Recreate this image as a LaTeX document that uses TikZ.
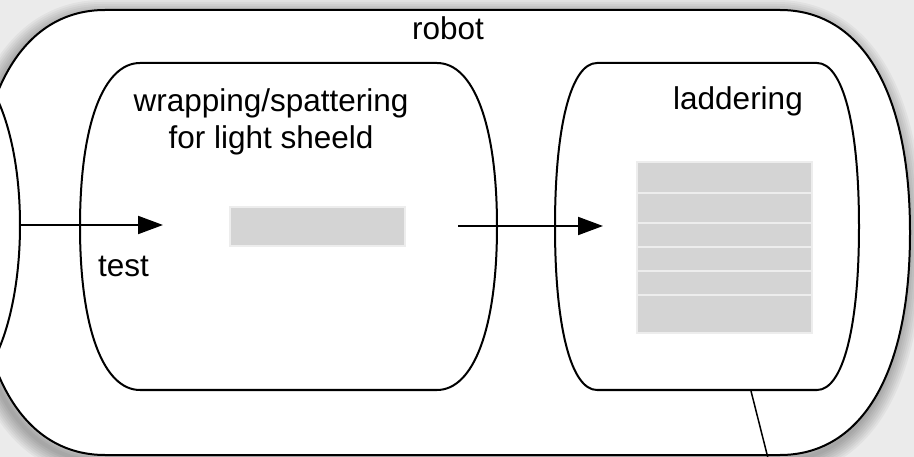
\documentclass[tikz,border=0pt]{standalone}
\usepackage{fontspec}
\setmainfont{Liberation Sans}
\usetikzlibrary{arrows.meta, positioning}

\tikzset{
    box/.style={draw=black, fill=white, line width=2pt, line join=round},
    slot/.style={fill=black!17, draw=black!7, line width=2pt},
    flow/.style={line width=2pt, -{Triangle[length=25pt,width=18pt]}},
    lbl/.style={font=\fontsize{31.5}{37}\selectfont, inner sep=0pt}
}

% bulging box: [style]{left}{right}{top}{bottom}{bulge}{vertical control}
\newcommand{\bulgebox}[7][box]{%
    \path[#1] (#2,#4) -- (#3,#4)
        .. controls ({#3+0.6*#6},#4) and ({#3+#6},{#4+#7}) .. ({#3+#6},{(#4+#5)/2})
        .. controls ({#3+#6},{#5-#7}) and ({#3+0.6*#6},#5) .. (#3,#5)
        -- (#2,#5)
        .. controls ({#2-0.6*#6},#5) and ({#2-#6},{#5-#7}) .. ({#2-#6},{(#4+#5)/2})
        .. controls ({#2-#6},{#4+#7}) and ({#2-0.6*#6},#4) .. cycle;}

\begin{document}
\begin{tikzpicture}[x=1pt, y=-1pt]
    \useasboundingbox (0,0) rectangle (914,457);
    \clip (0,0) rectangle (914,457);

    % Background
    \fill[black!8] (0,0) rectangle (914,457);

    % Shadow of the robot
    \foreach \w in {4,8,...,32}{
        \bulgebox[draw=black, opacity=0.04, line width=\w pt, shift={(-3,6)}]{105}{780}{10}{455}{130}{75}
    }

    % Robot
    \bulgebox{105}{780}{10}{455}{130}{75}
    \node[lbl, anchor=base] (robot) at (448,40) {robot};

    % Previous stage (cut off on the left)
    \draw[line width=2pt] (-60,63) -- (-40,63)
        .. controls (-10,63) and (20,130) .. (20,225)
        .. controls (20,320) and (-10,390) .. (-40,390) -- (-60,390);
    \coordinate (prevout) at (20,225);

    % Wrapping/spattering stage
    \bulgebox{140}{437}{63}{390}{60}{60}
    \node[lbl, align=center] (wrap) at (271,122) {wrapping/spattering\\for light sheeld};
    \node[slot, minimum width=175pt, minimum height=39pt] (sheet) at (317.5,227) {};
    \coordinate (wrapin) at (163,225);
    \coordinate (wrapout) at (458,226);

    % Laddering stage
    \bulgebox{597}{817}{63}{390}{42}{60}
    \node[lbl, anchor=base] (ladder) at (738,110) {laddering};
    \foreach \a/\b in {162/193, 193/223, 223/247, 247/271, 271/295, 295/333}
        \path[slot] (637,\a) rectangle (812,\b);
    \coordinate (laddin) at (603,226);
    \coordinate (laddout) at (751,391);
    \coordinate (laddend) at (771,470);

    % Flow between stages
    \draw[flow] (prevout) -- (wrapin);
    \draw[flow] (wrapout) -- (laddin);
    \draw[line width=1.5pt] (laddout) -- (laddend);

    \node[lbl, anchor=base west] (test) at (98,277) {test};
\end{tikzpicture}
\end{document}
